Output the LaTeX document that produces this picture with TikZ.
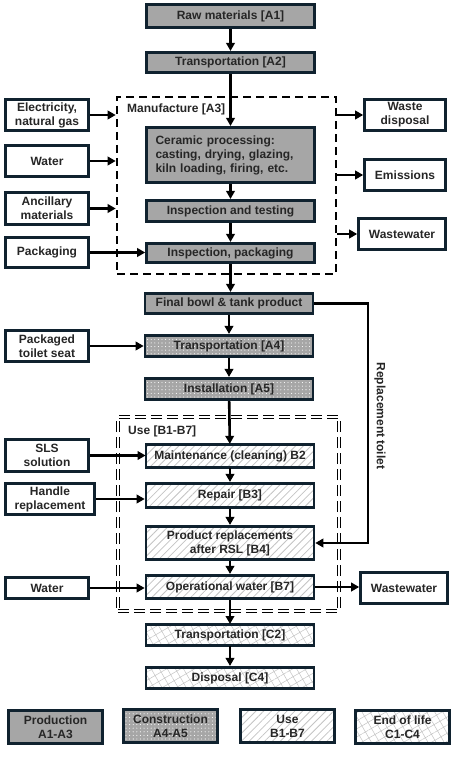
\documentclass[tikz,border=0pt]{standalone}
\usepackage{fontspec}
\setmainfont{Liberation Sans}
\usetikzlibrary{arrows.meta, fit, patterns.meta}
\definecolor{boxline}{HTML}{10222F}
\definecolor{prodgray}{HTML}{A6A6A6}
\definecolor{txtgray}{HTML}{262626}
\definecolor{hatchgray}{HTML}{C4C4C4}
\tikzset{
  stage/.style = {rectangle, draw=boxline, line width=2.6pt, align=center, text=txtgray, font=\fontsize{12}{14}\selectfont\bfseries, inner sep=1pt},
  prod/.style = {stage, fill=prodgray},
  constr/.style = {stage, preaction={fill=prodgray}, pattern={Dots[distance=3.6pt, radius=0.55pt]}, pattern color=white},
  usephase/.style = {stage, preaction={fill=white}, pattern={Lines[angle=45, distance=5.5pt, line width=0.8pt]}, pattern color=hatchgray},
  eol/.style = {stage, preaction={fill=white}, pattern={Hatch[angle=30, distance=7pt, line width=0.5pt]}, pattern color=hatchgray},
  flow/.style = {stage, fill=white},
  mainbox/.style = {minimum width=168pt},
  sidebox/.style = {minimum width=83pt, minimum height=31pt},
  line/.style = {-{Triangle[length=8pt, width=8.5pt]}, line width=2.6pt, draw=black},
  manufbox/.style = {draw=black, line width=2.6pt, dash pattern=on 8pt off 5pt, inner sep=0pt},
  usebox/.style = {draw=black, line width=0.6pt, double=white, double distance=2pt, dash pattern=on 11pt off 5pt, inner sep=0pt},
  lbl/.style = {text=txtgray, font=\fontsize{12}{14}\selectfont\bfseries, inner sep=0pt}
}

\begin{document}
\begin{tikzpicture}[x=1pt, y=-1pt]
\fill[white] (0,0) rectangle (459,757);
\useasboundingbox (0,0) rectangle (459,757);

% Phase frames
\node[manufbox, fit={(117,97) (336,274)}] (manuf) {};
\node[lbl, anchor=west] (manuflbl) at (127,109) {Manufacture [A3]};
\node[usebox, fit={(118,417) (339,611)}] (usefr) {};
\node[lbl, anchor=west] (uselbl) at (128,431) {Use [B1-B7]};

% Main chain
\node[prod, mainbox, minimum height=23.5pt] (raw) at (230.5,16) {Raw materials [A1]};
\node[prod, mainbox, minimum height=20.5pt] (transA2) at (230.5,62.5) {Transportation [A2]};
\node[prod, mainbox, minimum height=55.5pt, text width=150pt, align=left] (ceramic) at (230.5,155) {Ceramic processing:\\ casting, drying, glazing,\\ kiln loading, firing, etc.};
\node[prod, mainbox, minimum height=21.5pt] (inspect) at (230.5,211) {Inspection and testing};
\node[prod, mainbox, minimum height=19.5pt] (pack) at (230.5,253) {Inspection, packaging};
\node[prod, mainbox, minimum height=20.5pt] (final) at (229,303.5) {Final bowl \& tank product};
\node[constr, mainbox, minimum height=21.5pt] (transA4) at (229,346) {Transportation [A4]};
\node[constr, mainbox, minimum height=21.5pt] (install) at (229,389) {Installation [A5]};
\node[usephase, mainbox, minimum height=23.5pt] (maint) at (230,456) {Maintenance (cleaning) B2};
\node[usephase, mainbox, minimum height=24.5pt] (repair) at (230,495.5) {Repair [B3]};
\node[usephase, mainbox, minimum height=33.5pt] (replace) at (230,543) {Product replacements\\ after RSL [B4]};
\node[usephase, mainbox, minimum height=23.5pt] (opwater) at (230,587) {Operational water [B7]};
\node[eol, mainbox, minimum height=21.5pt] (transC2) at (230,635) {Transportation [C2]};
\node[eol, mainbox, minimum height=21.5pt] (disposal) at (230,678) {Disposal [C4]};

% Inputs
\node[flow, sidebox] (elec) at (47,115) {Electricity,\\ natural gas};
\node[flow, sidebox] (water) at (47,161) {Water};
\node[flow, sidebox, minimum height=32pt] (ancil) at (47,208.5) {Ancillary\\ materials};
\node[flow, sidebox, minimum height=30pt] (packing) at (47,252.5) {Packaging};
\node[flow, sidebox] (seat) at (47,346) {Packaged\\ toilet seat};
\node[flow, sidebox, minimum height=32pt] (sls) at (47,455.5) {SLS\\ solution};
\node[flow, sidebox, minimum width=89pt] (handle) at (50,499) {Handle\\ replacement};
\node[flow, sidebox, minimum height=21.5pt] (waterB) at (47,588) {Water};

% Outputs
\node[flow, sidebox, minimum width=81pt] (waste) at (405,115) {Waste\\ disposal};
\node[flow, sidebox, minimum width=81pt] (emis) at (405,175) {Emissions};
\node[flow, sidebox, minimum width=87pt] (wwA) at (402,234) {Wastewater};
\node[flow, sidebox, minimum width=87pt] (wwB) at (404,588) {Wastewater};

% Legend
\node[prod, minimum width=94pt, minimum height=33pt] (legprod) at (55.5,727) {Production\\ A1-A3};
\node[constr, minimum width=94pt, minimum height=33pt] (legconstr) at (170.5,726) {Construction\\ A4-A5};
\node[usephase, minimum width=94pt, minimum height=33pt] (leguse) at (287.5,726) {Use\\ B1-B7};
\node[eol, minimum width=94pt, minimum height=33pt] (legeol) at (402.5,727) {End of life\\ C1-C4};

% Main arrows
\draw[line] (raw) -- (transA2);
\draw[line] (transA2) -- (ceramic);
\draw[line] (ceramic) -- (inspect);
\draw[line] (inspect) -- (pack);
\draw[line] (pack.south) -- (pack.south |- final.north);
\draw[line] (final) -- (transA4);
\draw[line] (transA4) -- (install);
\draw[line] (install) -- (maint);
\draw[line] (maint.south) -- (maint.south |- repair.north);
\draw[line] (repair) -- (replace);
\draw[line] (replace) -- (opwater);
\draw[line] (opwater) -- (transC2);
\draw[line] (transC2) -- (disposal);

% Side arrows
\draw[line] (elec.east) -- (elec.east -| manuf.west);
\draw[line] (water.east) -- (water.east -| manuf.west);
\draw[line] (ancil.east) -- (ancil.east -| manuf.west);
\draw[line] (packing.east) -- (packing.east -| pack.west);
\draw[line] (seat.east) -- (seat.east -| transA4.west);
\draw[line] (sls.east) -- (sls.east -| maint.west);
\draw[line] (handle.east) -- (handle.east -| repair.west);
\draw[line] (waterB.east) -- (waterB.east -| opwater.west);
\draw[line] (waste.west -| manuf.east) -- (waste.west);
\draw[line] (emis.west -| manuf.east) -- (emis.west);
\draw[line] (wwA.west -| manuf.east) -- (wwA.west);
\draw[line] (opwater.east) -- (opwater.east -| wwB.west);

% Replacement loop
\coordinate (rturn) at (368,303.5);
\draw[line] (final.east) -- (rturn) |- (replace.east);
\node[lbl, rotate=-90] (rtlbl) at (380,416) {Replacement toilet};

\end{tikzpicture}
\end{document}
